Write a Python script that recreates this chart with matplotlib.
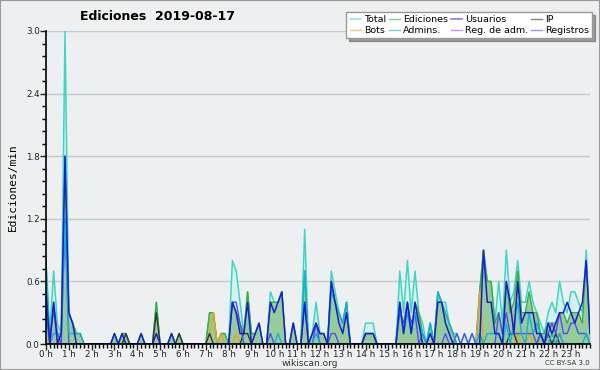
import matplotlib
matplotlib.use('Agg')
import matplotlib.pyplot as plt
import numpy as np
from matplotlib.patches import Rectangle
from matplotlib.ticker import MultipleLocator

# edits per minute, 10-minute bins (6 per hour), one row per hour
total = [0.8, 0.1, 0.7, 0.2, 0.1, 3.0,
         0.3, 0.2, 0.1, 0.1, 0.0, 0.0,
         0, 0, 0, 0, 0, 0,
         0.1, 0, 0.1, 0.1, 0, 0,
         0, 0.1, 0, 0, 0, 0.4,
         0, 0, 0, 0.1, 0, 0.1,
         0, 0, 0, 0, 0, 0,
         0, 0.3, 0.3, 0, 0.1, 0.1,
         0, 0.8, 0.7, 0.4, 0.1, 0.5,
         0.1, 0.1, 0.2, 0, 0, 0.5,
         0.4, 0.4, 0.5, 0, 0, 0.2,
         0, 0, 1.1, 0, 0.1, 0.4,
         0.1, 0.1, 0, 0.7, 0.5, 0.3,
         0.2, 0.4, 0, 0, 0, 0,
         0.2, 0.2, 0.2, 0, 0, 0,
         0, 0, 0, 0.7, 0.3, 0.8,
         0.3, 0.7, 0.3, 0.2, 0, 0.2,
         0, 0.5, 0.4, 0.4, 0.2, 0.1,
         0.1, 0, 0.1, 0, 0.1, 0,
         0.5, 0.9, 0.6, 0.6, 0.2, 0.6,
         0.2, 0.9, 0.4, 0.5, 0.8, 0.4,
         0.4, 0.6, 0.4, 0.3, 0.2, 0.1,
         0.3, 0.4, 0.3, 0.6, 0.4, 0.3,
         0.5, 0.5, 0.4, 0.3, 0.9, 0.1]

ediciones = [0.5, 0.1, 0.3, 0.1, 0.1, 1.8,
             0.3, 0.2, 0.1, 0.1, 0, 0,
             0, 0, 0, 0, 0, 0,
             0.1, 0, 0.1, 0.1, 0, 0,
             0, 0.1, 0, 0, 0, 0.4,
             0, 0, 0, 0.1, 0, 0.1,
             0, 0, 0, 0, 0, 0,
             0, 0.3, 0.3, 0, 0.1, 0.1,
             0, 0.4, 0.3, 0.2, 0.1, 0.5,
             0.1, 0.1, 0.2, 0, 0, 0.4,
             0.4, 0.4, 0.5, 0, 0, 0.2,
             0, 0, 0.7, 0, 0.1, 0.2,
             0.1, 0.1, 0, 0.6, 0.4, 0.3,
             0.2, 0.4, 0, 0, 0, 0,
             0.1, 0.1, 0.1, 0, 0, 0,
             0, 0, 0, 0.4, 0.1, 0.4,
             0.1, 0.4, 0.3, 0.1, 0, 0.2,
             0, 0.5, 0.4, 0.3, 0.2, 0.1,
             0, 0, 0, 0, 0, 0,
             0.5, 0.9, 0.6, 0.6, 0.2, 0.3,
             0.1, 0.6, 0.3, 0.4, 0.7, 0.3,
             0.3, 0.5, 0.3, 0.3, 0.1, 0.1,
             0.2, 0.2, 0.2, 0.3, 0.3, 0.2,
             0.3, 0.3, 0.3, 0.2, 0.8, 0.1]

usuarios = [0.5, 0, 0.4, 0, 0.1, 1.8,
            0.3, 0.2, 0, 0, 0, 0,
            0, 0, 0, 0, 0, 0,
            0.1, 0, 0.1, 0, 0, 0,
            0, 0.1, 0, 0, 0, 0.1,
            0, 0, 0, 0.1, 0, 0,
            0, 0, 0, 0, 0, 0,
            0, 0, 0, 0, 0, 0,
            0, 0.4, 0.3, 0.1, 0.1, 0.4,
            0, 0.1, 0.2, 0, 0, 0.4,
            0.3, 0.4, 0.5, 0, 0, 0.2,
            0, 0, 0.4, 0, 0.1, 0.2,
            0.1, 0.1, 0, 0.6, 0.4, 0.2,
            0.1, 0.3, 0, 0, 0, 0,
            0.1, 0.1, 0.1, 0, 0, 0,
            0, 0, 0, 0.4, 0.1, 0.4,
            0.1, 0.4, 0.2, 0, 0, 0.1,
            0, 0.4, 0.4, 0.2, 0.1, 0,
            0, 0, 0, 0, 0, 0,
            0, 0.9, 0.4, 0.4, 0.1, 0.1,
            0, 0.6, 0.4, 0.1, 0.6, 0.2,
            0.3, 0.3, 0.3, 0.1, 0.1, 0,
            0.2, 0.1, 0.2, 0.3, 0.3, 0.4,
            0.3, 0.2, 0.3, 0.4, 0.8, 0.1]

ip = [0] * 18 + [0, 0, 0, 0.1, 0, 0,
                 0, 0, 0, 0, 0, 0.3,
                 0, 0, 0, 0, 0, 0.1,
                 0, 0, 0, 0, 0, 0,
                 0, 0.1, 0, 0, 0, 0,
                 0, 0, 0, 0, 0.1, 0.1] + [0] * 66 + [
                 0, 0, 0.1, 0.1, 0, 0,
                 0, 0, 0, 0, 0.1, 0,
                 0.1, 0, 0.1, 0, 0, 0,
                 0, 0, 0, 0, 0, 0]

bots = [0] * 42 + [0, 0.1, 0.3, 0, 0.1, 0,
                   0, 0, 0.1, 0, 0, 0] + [0] * 60 + [
                   0.5, 0, 0, 0, 0, 0,
                   0, 0, 0, 0, 0.1, 0,
                   0, 0.1, 0, 0, 0, 0,
                   0, 0, 0, 0, 0, 0,
                   0, 0, 0, 0, 0, 0]

admins = [0.8, 0, 0.1, 0.1, 0.1, 1.2,
          0.1, 0.1, 0.1, 0.1, 0, 0] + [0] * 48 + [
          0, 0.1, 0, 0, 0, 0,
          0, 0, 0.7, 0, 0, 0.1,
          0, 0, 0, 0.5, 0.4, 0.3,
          0.2, 0.4, 0, 0, 0, 0,
          0, 0, 0, 0, 0, 0,
          0, 0, 0, 0.4, 0.1, 0.3,
          0.1, 0.3, 0.2, 0.1, 0, 0.2,
          0, 0.5, 0.4, 0.3, 0.2, 0.1,
          0, 0, 0, 0, 0, 0,
          0.1, 0, 0.1, 0.1, 0.1, 0.1,
          0, 0.2, 0, 0.2, 0.4, 0.1,
          0, 0.3, 0.1, 0.2, 0.1, 0,
          0, 0.1, 0, 0.1, 0, 0,
          0, 0, 0, 0, 0.1, 0]

reg_adm = [0] * 132 + [0, 0, 0, 0.1, 0, 0] + [0] * 6

registros = [0.3, 0, 0.4, 0.1, 0, 1.2,
             0, 0, 0, 0, 0, 0] + [0] * 36 + [
             0, 0.4, 0.4, 0.2, 0, 0,
             0, 0, 0, 0, 0, 0.1,
             0, 0, 0, 0, 0, 0,
             0, 0, 0.4, 0, 0, 0.2,
             0, 0, 0, 0.1, 0.1, 0,
             0, 0, 0, 0, 0, 0,
             0.1, 0.1, 0.1, 0, 0, 0,
             0, 0, 0, 0.3, 0.2, 0.4,
             0.2, 0.3, 0, 0.1, 0, 0,
             0, 0, 0, 0.1, 0, 0,
             0.1, 0, 0.1, 0, 0.1, 0,
             0, 0, 0, 0, 0, 0.3,
             0.1, 0.3, 0.1, 0.1, 0.1, 0.1,
             0.1, 0.1, 0.1, 0, 0.1, 0,
             0.1, 0.2, 0.1, 0.3, 0.1, 0.1,
             0.2, 0.2, 0.1, 0.1, 0.1, 0]

hours = ['%d h' % h for h in range(24)]

bg = '#eeeff0'
x = np.arange(len(total)) / 6.0

fig = plt.figure(figsize=(6, 3.7), dpi=100, facecolor=bg)
ax = fig.add_axes([46 / 600, 26 / 370, 544 / 600, 313 / 370])
ax.set_facecolor(bg)

ax.fill_between(x, total, color='#d5f1ee', lw=0)
l_tot, = ax.plot(x, total, color='#3dd6c6', lw=1.1, label='Total')
ax.fill_between(x, ediciones, color='#8fc891', alpha=0.9, lw=0)
l_ed, = ax.plot(x, ediciones, color='#3aad3a', lw=1.0, label='Ediciones')
l_bot, = ax.plot(x, bots, color='#f0a020', lw=1.0, label='Bots')
l_ip, = ax.plot(x, ip, color='#333333', lw=1.0, label='IP')
l_reg, = ax.plot(x, registros, color='#5050f0', lw=1.0, label='Registros')
l_radm, = ax.plot(x, reg_adm, color='#c040d0', lw=1.0, label='Reg. de adm.')
l_adm, = ax.plot(x, admins, color='#10b4d8', lw=1.0, label='Admins.')
l_us, = ax.plot(x, usuarios, color='#1c1cd0', lw=1.1, label='Usuarios')

ax.set_xlim(0, x[-1])
ax.set_ylim(0, 3.0)
ax.set_xticks(range(24))
ax.set_xticklabels(hours)
ax.xaxis.set_minor_locator(MultipleLocator(1 / 6.0))
ax.set_yticks([0, 0.6, 1.2, 1.8, 2.4, 3.0])
ax.set_yticklabels(['0.0', '0.6', '1.2', '1.8', '2.4', '3.0'])
ax.yaxis.set_minor_locator(MultipleLocator(0.12))
ax.tick_params(axis='both', which='major', length=4, width=1, labelsize=6.3, pad=0.5, colors='#222222')
ax.tick_params(axis='both', which='minor', length=3, width=1, colors='black')
ax.grid(axis='y', color='#c8c8c8', lw=1)
ax.set_axisbelow(True)
for s in ['top', 'right']:
    ax.spines[s].set_visible(False)
for s in ['left', 'bottom']:
    ax.spines[s].set_linewidth(1.2)

ax.set_ylabel('Ediciones/min', family='DejaVu Sans Mono', fontsize=8, labelpad=6)
fig.text(157 / 600, 1 - 16 / 370, 'Ediciones  2019-08-17', ha='center', va='center',
         fontsize=9, fontweight='bold')
fig.text(310 / 600, 1 - 363 / 370, 'wikiscan.org', ha='center', va='center', fontsize=6.5, color='#333333')
fig.text(590 / 600, 1 - 363 / 370, 'CC BY-SA 3.0', ha='right', va='center', fontsize=5, color='#333333')

handles = [l_tot, l_bot, l_ed, l_adm, l_us, l_radm, l_ip, l_reg]
leg = fig.legend(handles, [h.get_label() for h in handles], ncol=4, loc='upper right',
                 bbox_to_anchor=(597 / 600, 1 - 7 / 370), fontsize=6.8, frameon=True,
                 fancybox=False, shadow=True, borderpad=0.35, labelspacing=0.2,
                 columnspacing=0.3, handlelength=1.2, handletextpad=0.3)
leg.get_frame().set_facecolor('white')
leg.get_frame().set_edgecolor('#999999')
for lh in leg.get_lines():
    lh.set_alpha(0.6)

fig.patches.append(Rectangle((0, 0), 1, 1, transform=fig.transFigure, fill=False,
                             edgecolor='#999999', lw=1.5))

fig.savefig('out.png', dpi=100, facecolor=bg)
